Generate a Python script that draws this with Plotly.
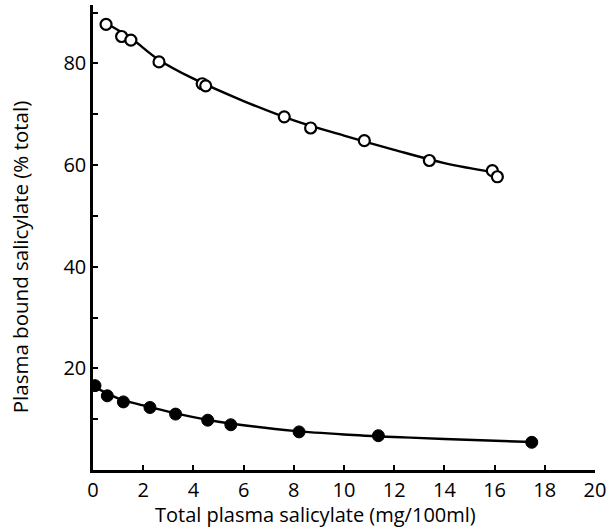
import plotly.graph_objects as go

# Open circles (upper series)
open_x = [0.52, 1.14, 1.51, 2.63, 4.35, 4.49, 7.62, 8.67, 10.81, 13.40, 15.91, 16.11]
open_y = [87.7, 85.3, 84.6, 80.3, 76.0, 75.6, 69.5, 67.3, 64.8, 60.9, 58.9, 57.7]

# Filled circles (lower series)
fill_x = [0.08, 0.57, 1.21, 2.27, 3.29, 4.57, 5.49, 8.21, 11.37, 17.48]
fill_y = [16.6, 14.6, 13.4, 12.3, 11.0, 9.8, 8.9, 7.5, 6.75, 5.45]

# Fitted curves
upper_curve_x = [0.52, 1.5, 2.6, 4.0, 6.0, 8.0, 10.0, 12.0, 14.0, 15.95]
upper_curve_y = [87.9, 85.0, 80.8, 77.0, 72.6, 68.8, 65.8, 63.0, 60.4, 58.6]
lower_curve_x = [0.08, 1.0, 2.0, 3.0, 4.0, 5.0, 6.0, 8.0, 10.0, 12.0, 14.0, 17.48]
lower_curve_y = [16.3, 14.1, 12.7, 11.5, 10.4, 9.5, 8.8, 7.7, 7.0, 6.5, 6.1, 5.5]

x_ticks = [0, 2, 4, 6, 8, 10, 12, 14, 16, 18, 20]
y_ticks = [10, 20, 30, 40, 50, 60, 70, 80, 90]
y_ticktext = ["", "20", "", "40", "", "60", "", "80", ""]

FONT = "Open Sans"

fig = go.Figure()
fig.add_trace(go.Scatter(x=upper_curve_x, y=upper_curve_y, mode="lines",
                         line=dict(color="black", width=2.4, shape="spline"),
                         showlegend=False, hoverinfo="skip"))
fig.add_trace(go.Scatter(x=lower_curve_x, y=lower_curve_y, mode="lines",
                         line=dict(color="black", width=2.4, shape="spline"),
                         showlegend=False, hoverinfo="skip"))
fig.add_trace(go.Scatter(x=open_x, y=open_y, mode="markers",
                         marker=dict(symbol="circle", size=11, color="white",
                                     line=dict(color="black", width=2.2)),
                         showlegend=False))
fig.add_trace(go.Scatter(x=fill_x, y=fill_y, mode="markers",
                         marker=dict(symbol="circle", size=12, color="black",
                                     line=dict(color="black", width=1)),
                         showlegend=False))

fig.update_layout(
    width=611, height=529,
    margin=dict(l=93, r=16, t=5, b=59),
    paper_bgcolor="white", plot_bgcolor="white",
    font=dict(family=FONT, color="black", size=20),
    xaxis=dict(range=[0, 20], tickvals=x_ticks, ticks="inside", ticklen=5,
               tickwidth=2, tickcolor="black", showline=True, linecolor="black",
               linewidth=2.5, showgrid=False, zeroline=False,
               tickfont=dict(family=FONT, size=20)),
    yaxis=dict(range=[0, 91.5], tickvals=y_ticks, ticktext=y_ticktext,
               ticks="inside", ticklen=5, tickwidth=2, tickcolor="black",
               showline=True, linecolor="black", linewidth=2.5, showgrid=False,
               zeroline=False, tickfont=dict(family=FONT, size=20)),
    annotations=[
        dict(text="Total plasma salicylate (mg/100ml)", xref="paper", yref="paper",
             x=0.444, y=-0.095, showarrow=False, xanchor="center", yanchor="middle",
             font=dict(family=FONT, size=20)),
        dict(text="Plasma bound salicylate (% total)", xref="paper", yref="paper",
             x=-0.145, y=0.458, showarrow=False, xanchor="center", yanchor="middle",
             textangle=-90, font=dict(family=FONT, size=20.5)),
    ],
)

fig.write_html("out.html", config={"displayModeBar": False},
               post_script="document.body.style.margin='0';")
